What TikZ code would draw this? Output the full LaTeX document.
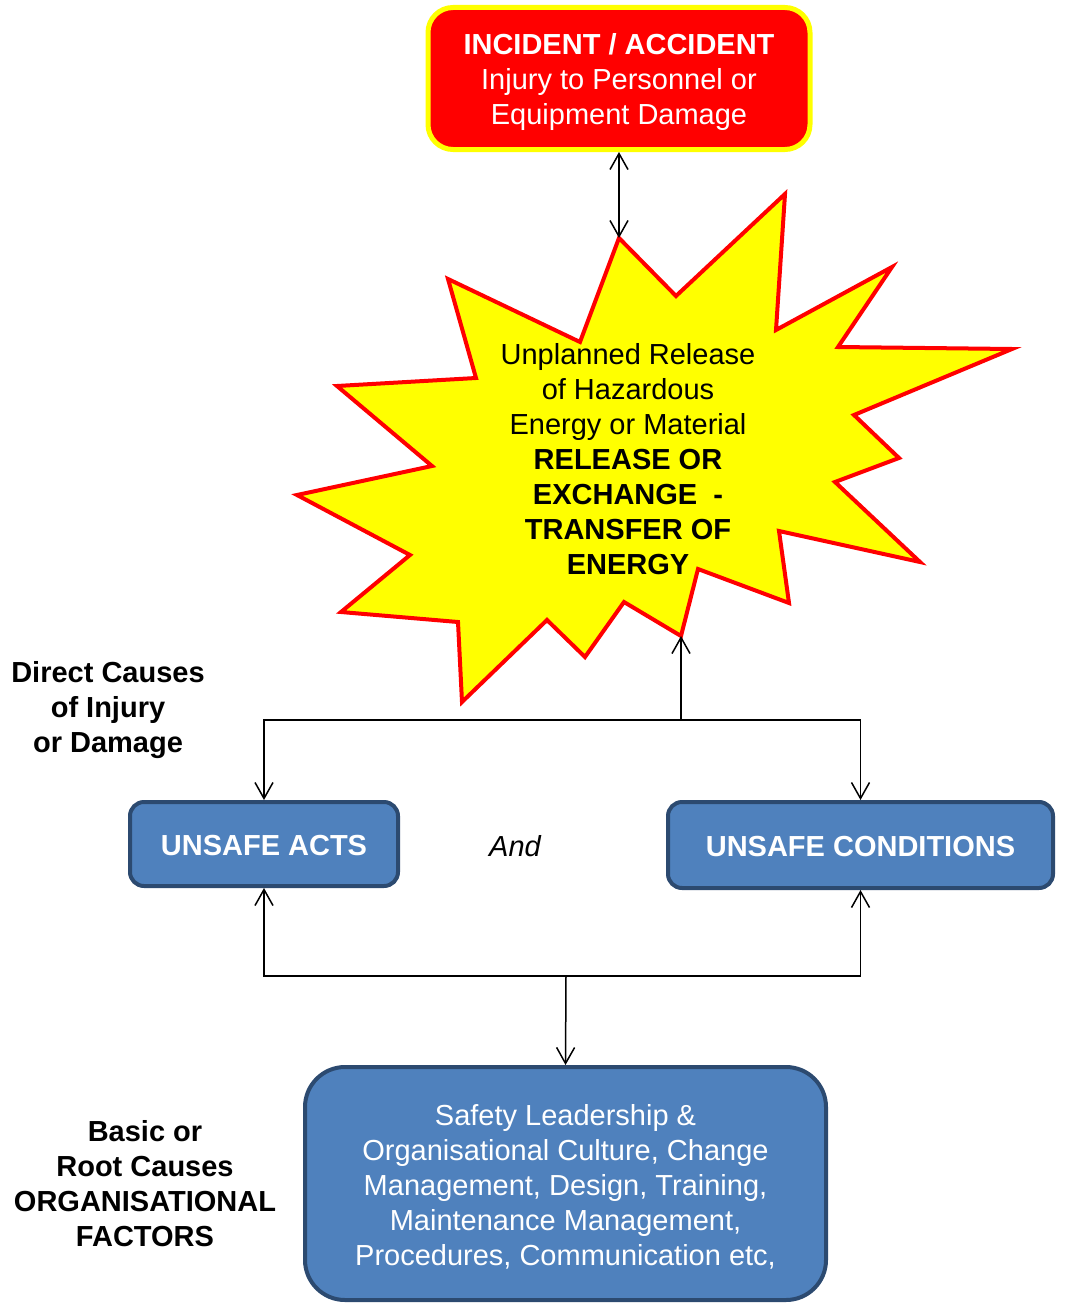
\documentclass[tikz,border=0pt]{standalone}
\usepackage{fontspec}
\setmainfont{Liberation Sans}
\usetikzlibrary{arrows.meta}
\definecolor{boxblue}{HTML}{4F81BD}
\definecolor{boxedge}{HTML}{2C4A70}
\definecolor{starfill}{HTML}{FFFF00}
\definecolor{starline}{HTML}{FF0000}
\begin{document}
\begin{tikzpicture}[x=1pt,y=-1pt,
  txt/.style={font=\fontsize{29}{35}\selectfont, align=center, inner sep=0pt},
  redbox/.style={draw=starfill, line width=5pt, fill=starline, rounded corners=25pt,
     minimum width=382pt, minimum height=142pt},
  bluebox/.style={draw=boxedge, line width=4pt, fill=boxblue, rounded corners=14pt},
  wtxt/.style={txt, text=white},
  conn/.style={line width=1.5pt, -{Straight Barb[length=16pt,width=18pt,line width=1.5pt]}},
  dconn/.style={line width=1.5pt, {Straight Barb[length=16pt,width=18pt,line width=1.5pt]}-{Straight Barb[length=16pt,width=18pt,line width=1.5pt]}},
  starshape/.style={draw=starline, line width=4pt, fill=starfill, line join=miter}]
\useasboundingbox (0,0) rectangle (1077,1303);

% incident box
\node[redbox] (incident) at (619,78.5) {};
\node[wtxt] (incidenttext) at (619,82) {\textbf{INCIDENT / ACCIDENT}\\Injury to Personnel or\\Equipment Damage};

% star burst
\draw[starshape] (619,238) -- (676,296) -- (785,194) -- (776,330) -- (892,267) -- (838,347)
  -- (1012,349) -- (854,415) -- (899,458) -- (835,482) -- (920,562) -- (779,531)
  -- (789,603) -- (698,569) -- (681,636) -- (624,602) -- (585,657) -- (547,620)
  -- (462,702) -- (458,622) -- (341,612) -- (410,555) -- (297,495) -- (432,466)
  -- (337,386) -- (476,378) -- (448,279) -- (580,342) -- cycle;
\coordinate (startop) at (619,238);
\coordinate (starbot) at (681,636);
\node[txt] (startext) at (628,459) {Unplanned Release\\of Hazardous\\Energy or Material\\\textbf{RELEASE OR}\\\textbf{EXCHANGE\ \ -}\\\textbf{TRANSFER OF}\\\textbf{ENERGY}};

% side labels
\node[txt, font=\fontsize{29}{35}\selectfont\bfseries] (direct) at (108,710) {Direct Causes\\of Injury\\or Damage};
\node[txt, font=\fontsize{29}{35}\selectfont\bfseries] (basic) at (145,1184) {Basic or\\Root Causes\\ORGANISATIONAL\\FACTORS};

% unsafe boxes
\node[bluebox, minimum width=268pt, minimum height=84pt] (acts) at (264,844) {};
\node[wtxt, font=\fontsize{29}{35}\selectfont\bfseries] (actstext) at (264,846) {UNSAFE ACTS};
\node[bluebox, minimum width=385pt, minimum height=86pt] (cond) at (860.5,845) {};
\node[wtxt, font=\fontsize{29}{35}\selectfont\bfseries] (condtext) at (860.5,847) {UNSAFE CONDITIONS};
\node[txt, font=\fontsize{29}{35}\selectfont\itshape] (and) at (515,846) {And};

% root box
\node[bluebox, rounded corners=40pt, minimum width=521pt, minimum height=233pt] (root) at (565.5,1183.5) {};
\node[wtxt] (roottext) at (565.5,1186.5)
  {Safety Leadership \&\\Organisational Culture, Change\\Management, Design, Training,\\Maintenance Management,\\Procedures, Communication etc,};

% connectors
\coordinate (junc) at (681,720);
\coordinate (junc2) at (566,976);
\draw[dconn] (incident.south) -- (startop);
\draw[conn] (junc) -- (starbot);
\draw[conn] (junc) -| (acts.north);
\draw[conn] (junc) -| (cond.north);
\draw[conn] (junc2) -| (acts.south);
\draw[conn] (junc2) -| (cond.south);
\draw[conn] (junc2) -- (root.north);
\end{tikzpicture}
\end{document}
